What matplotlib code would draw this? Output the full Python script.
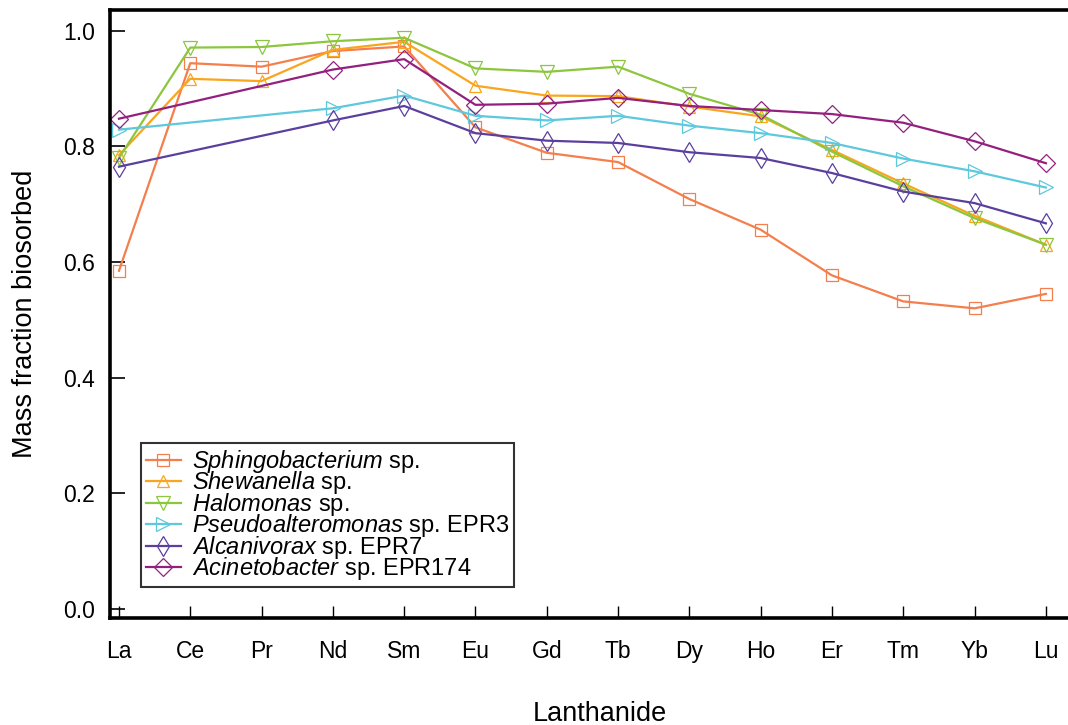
import numpy as np
import matplotlib
matplotlib.use("Agg")
import matplotlib.pyplot as plt

plt.rcParams['font.family'] = ['Liberation Sans', 'DejaVu Sans']
# italic genus names in the legend use the same sans face
plt.rcParams['mathtext.fontset'] = 'custom'
plt.rcParams['mathtext.rm'] = 'Liberation Sans'
plt.rcParams['mathtext.it'] = 'Liberation Sans:italic'

# lanthanide series along the x axis
elements = ['La', 'Ce', 'Pr', 'Nd', 'Sm', 'Eu', 'Gd', 'Tb', 'Dy', 'Ho', 'Er', 'Tm', 'Yb', 'Lu']

# mass fraction biosorbed per strain (nan = not measured)
sphingo = [0.585, 0.944, 0.938, 0.965, 0.973, 0.833, 0.789, 0.773, 0.709, 0.656, 0.577, 0.532, 0.520, 0.545]
shewan = [0.785, 0.917, 0.913, 0.967, 0.981, 0.905, 0.888, 0.887, 0.869, 0.852, 0.794, 0.736, 0.680, 0.630]
halomon = [0.780, 0.971, 0.972, 0.982, 0.988, 0.935, 0.929, 0.938, 0.891, 0.855, 0.791, 0.731, 0.676, 0.630]
pseudo = [0.829, np.nan, np.nan, 0.866, 0.888, 0.853, 0.845, 0.853, 0.836, 0.823, 0.806, 0.779, 0.757, 0.729]
alcani = [0.765, np.nan, np.nan, 0.845, 0.870, 0.823, 0.810, 0.806, 0.790, 0.780, 0.754, 0.722, 0.702, 0.667]
acineto = [0.848, np.nan, np.nan, 0.933, 0.951, 0.872, 0.874, 0.884, 0.870, 0.863, 0.856, 0.841, 0.809, 0.771]

genus = ['Sphingobacterium', 'Shewanella', 'Halomonas', 'Pseudoalteromonas', 'Alcanivorax', 'Acinetobacter']
suffix = ['sp.', 'sp.', 'sp.', 'sp. EPR3', 'sp. EPR7', 'sp. EPR174']
colors = ['#f47e4c', '#f9a51e', '#8cc63f', '#5ec8dc', '#5b3f9e', '#93207e']
markers = ['s', '^', 'v', '>', 'd', 'D']
msizes = [9, 9, 10, 10, 10, 9]

fig = plt.figure(figsize=(10.68, 7.25), dpi=100)
ax = fig.add_axes([110 / 1068, 107 / 725, 979 / 1068, 608 / 725])

x = np.arange(len(elements))
for vals, g, s, c, m, ms in zip([sphingo, shewan, halomon, pseudo, alcani, acineto],
                                genus, suffix, colors, markers, msizes):
    v = np.array(vals, dtype=float)
    ok = ~np.isnan(v)
    ax.plot(x[ok], v[ok], color=c, lw=1.6, marker=m, ms=ms, mfc='none',
            mec=c, mew=0.9, label=r'$\it{%s}$ %s' % (g, s))

ax.set_xlim(-0.126, 13.605)
ax.set_ylim(-0.0156, 1.036)
ax.set_xticks(x)
ax.set_xticklabels(elements)
ax.set_yticks([0.0, 0.2, 0.4, 0.6, 0.8, 1.0])
ax.set_yticklabels(['0.0', '0.2', '0.4', '0.6', '0.8', '1.0'])

ax.tick_params(axis='x', direction='in', length=9, width=1, pad=16, labelsize=16.5)
ax.tick_params(axis='y', direction='in', length=11, width=1.2, pad=11, labelsize=16.5)
for sp in ['left', 'bottom', 'top']:
    ax.spines[sp].set_linewidth(2.6)
ax.spines['right'].set_visible(False)

ax.set_xlabel('Lanthanide', fontsize=19.5, labelpad=27)
ax.set_ylabel('Mass fraction biosorbed', fontsize=19.5, labelpad=18)

leg = ax.legend(loc='lower left', bbox_to_anchor=(0.0317, 0.051), fontsize=17,
                frameon=True, fancybox=False, edgecolor='black', handlelength=1.5,
                handletextpad=0.45, labelspacing=-0.235, borderpad=0.2,
                borderaxespad=0)
leg.get_frame().set_linewidth(1.5)

fig.savefig('out.png', dpi=100)
